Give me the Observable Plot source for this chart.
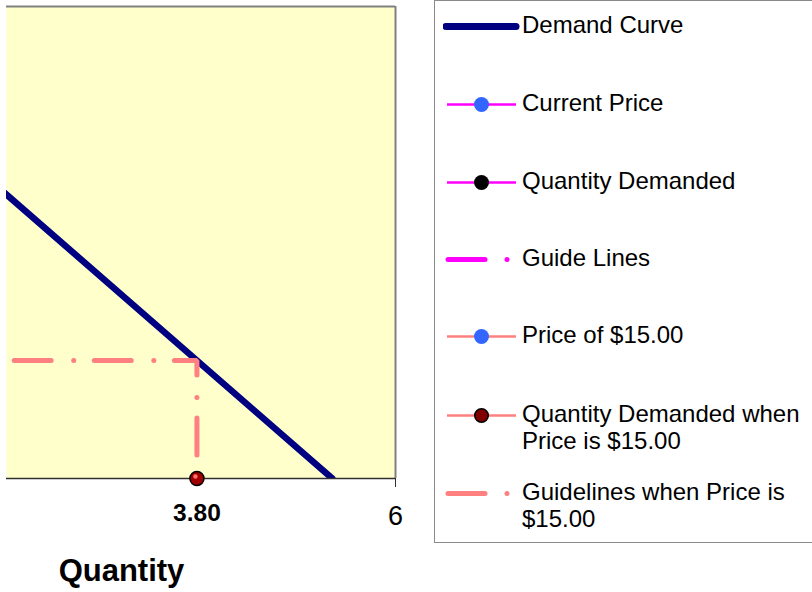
<!DOCTYPE html>
<html>
<head>
<meta charset="utf-8">
<script src="https://cdn.jsdelivr.net/npm/d3@7"></script>
<script src="https://cdn.jsdelivr.net/npm/@observablehq/plot@0.6"></script>
<style>
  html, body { margin: 0; padding: 0; background: #fff; }
  body { width: 812px; height: 592px; position: relative; overflow: hidden; font-family: "Liberation Sans", Arial, sans-serif; }
  #chart { position: absolute; left: 0; top: 0; }
  #xlabel { position: absolute; left: 0; width: 243px; top: 553px; text-align: center; font-weight: bold; font-size: 31px; line-height: 36px; color: #000; }
  #legend { position: absolute; left: 434px; top: 0; width: 400px; height: 543px; border: 1.5px solid #8a8a8a; box-sizing: border-box; background: #fff; }
  .row { position: absolute; left: 0; }
  .row svg { position: absolute; left: 8px; top: 0; }
  .row .lbl { position: absolute; left: 87px; top: -2px; font-size: 24px; line-height: 27px; white-space: nowrap; color: #000; }
</style>
</head>
<body>
<div id="chart"></div>
<div id="xlabel">Quantity</div>
<div id="legend"></div>
<script>
// ---- data ----
const demandQuantity = [0, 5.3];
const demandPrice = [53, 0];
const guideQuantity = [0, 3.8, 3.8];
const guidePrice = [15, 15, 0];
const pointQuantity = [3.8];
const pointPrice = [0];
const xTicks = [6];
const xLabelTicks = [3.8];
const xDomain = [1.69, 6];
const yDomain = [0, 60];
const legendLabels = [
  "Demand Curve",
  "Current Price",
  "Quantity Demanded",
  "Guide Lines",
  "Price of $15.00",
  "Quantity Demanded when<br>Price is $15.00",
  "Guidelines when Price is<br>$15.00"
];

const demand = demandQuantity.map((q, i) => ({q, p: demandPrice[i]}));
const guide = guideQuantity.map((q, i) => ({q, p: guidePrice[i]}));
const points = pointQuantity.map((q, i) => ({q, p: pointPrice[i]}));

const navy = "#000080", salmon = "#FF8080", magenta = "#FF00FF", blue = "#3366FF", darkRed = "#800000";

const chart = Plot.plot({
  width: 430,
  height: 540,
  marginLeft: 6,
  marginRight: 35,
  marginTop: 6,
  marginBottom: 62,
  style: {fontFamily: "'Liberation Sans', Arial, sans-serif", background: "transparent", overflow: "visible", color: "#000"},
  x: {domain: xDomain, axis: null},
  y: {domain: yDomain, axis: null},
  marks: [
    Plot.frame({fill: "#FFFFCC", stroke: "none"}),
    Plot.line(demand, {x: "q", y: "p", stroke: navy, strokeWidth: 6.5, clip: true}),
    Plot.line(guide, {x: "q", y: "p", stroke: salmon, strokeWidth: 5, strokeLinecap: "round", strokeLinejoin: "miter", strokeDasharray: "37,22.5,0.1,20.5", clip: true}),
    Plot.ruleY([yDomain[1]], {stroke: "#808080", strokeWidth: 2}),
    Plot.ruleX([xDomain[1]], {stroke: "#808080", strokeWidth: 2}),
    Plot.ruleY([yDomain[0]], {stroke: "#303030", strokeWidth: 1.5}),
    Plot.axisX({ticks: xTicks, tickFormat: d => String(d), tickSize: 9, tickPadding: 18, fontSize: 27, label: null, stroke: "#303030"}),
    Plot.text(xLabelTicks, {x: d => d, frameAnchor: "bottom", lineAnchor: "middle", text: d => d.toFixed(2), dy: 35, fontSize: 24.5, fontWeight: "bold", fill: "#000"}),
    Plot.dot(points, {x: "q", y: "p", r: 7, fill: "#A00000", stroke: "#000", strokeWidth: 1.5}),
    Plot.dot(points, {x: "q", y: "p", r: 2.2, fill: "#FF7070", stroke: "none", dx: -1.5, dy: -2})
  ]
});
document.getElementById("chart").append(chart);

// ---- legend ----
const rowTops = [11.5, 89.5, 167.5, 244.5, 321.5, 400.5, 478.5];
function sym(kind, color, dotFill) {
  const w = 82, h = 27, cy = 13.5;
  if (kind === "thick") return `<svg width="${w}" height="${h}"><line x1="3" x2="73" y1="${cy}" y2="${cy}" stroke="${color}" stroke-width="7" stroke-linecap="round"/></svg>`;
  if (kind === "dash") return `<svg width="${w}" height="${h}"><line x1="5" x2="42" y1="${cy}" y2="${cy}" stroke="${color}" stroke-width="5" stroke-linecap="round"/><circle cx="64" cy="${cy}" r="2.5" fill="${color}"/></svg>`;
  const stroke = dotFill === darkRed ? `stroke="#000" stroke-width="1.5"` : "";
  return `<svg width="${w}" height="${h}"><line x1="4" x2="73" y1="${cy}" y2="${cy}" stroke="${color}" stroke-width="2.5"/><circle cx="38.5" cy="${cy}" r="${dotFill === darkRed ? 6.8 : 7.5}" fill="${dotFill}" ${stroke}/></svg>`;
}
const syms = [
  sym("thick", navy),
  sym("dot", magenta, blue),
  sym("dot", magenta, "#000"),
  sym("dash", magenta),
  sym("dot", salmon, blue),
  sym("dot", salmon, darkRed),
  sym("dash", salmon)
];
const legend = document.getElementById("legend");
legendLabels.forEach((t, i) => {
  const r = document.createElement("div");
  r.className = "row";
  r.style.top = rowTops[i] + "px";
  r.innerHTML = syms[i] + `<div class="lbl">${t}</div>`;
  legend.append(r);
});
</script>
</body>
</html>
